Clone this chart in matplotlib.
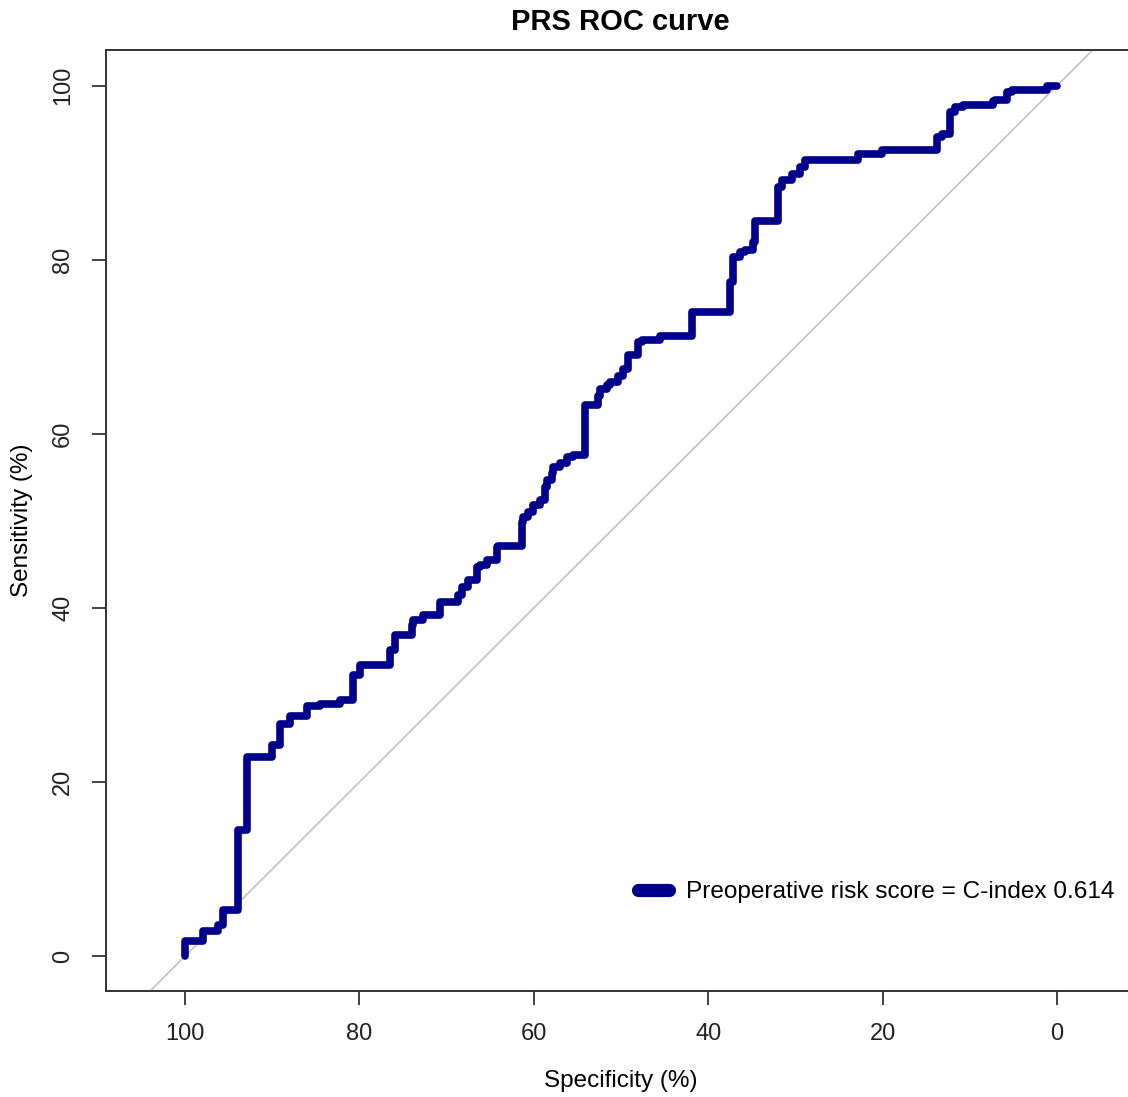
import matplotlib
matplotlib.use("Agg")
import matplotlib.pyplot as plt

plt.rcParams['font.family'] = ['Liberation Sans', 'DejaVu Sans']

# ROC curve points (specificity %, sensitivity %)
specificity = [100.0, 100.0, 97.9, 97.9, 96.2, 95.6, 95.6, 93.9, 93.9, 92.9,
               92.9, 92.0, 90.0, 89.1, 89.1, 88.0, 86.0, 84.5, 82.2, 80.7,
               80.7, 79.9, 78.8, 76.5, 75.9, 75.7, 74.0, 73.9, 72.7, 72.1,
               70.8, 70.5, 68.7, 68.2, 67.5, 66.5, 66.2, 65.4, 64.2, 64.1,
               61.4, 61.2, 60.7, 60.1, 59.3, 58.7, 58.5, 57.9, 57.8, 57.0,
               56.2, 55.5, 54.1, 54.1, 52.6, 52.4, 51.6, 51.3, 50.3, 49.8,
               49.2, 49.2, 48.1, 48.1, 47.6, 45.5, 45.3, 41.9, 41.9, 41.5,
               37.5, 37.5, 37.2, 37.2, 36.4, 35.8, 34.9, 34.6, 34.3, 32.0,
               32.0, 31.5, 30.4, 29.5, 28.9, 27.8, 22.8, 22.6, 20.1, 20.0,
               13.8, 13.8, 13.2, 12.3, 12.3, 11.7, 10.8, 7.3, 7.1, 5.7,
               5.2, 5.0, 1.1, 1.0, 0.0]
sensitivity = [0.0, 1.7, 1.7, 2.9, 2.9, 3.6, 5.3, 5.3, 13.9, 14.5,
               22.5, 22.9, 22.9, 24.3, 26.3, 26.7, 27.6, 28.7, 29.0, 29.4,
               31.1, 32.3, 33.4, 33.4, 35.2, 36.9, 36.9, 38.0, 38.6, 39.2,
               39.2, 40.7, 40.7, 41.5, 42.4, 43.2, 44.7, 44.9, 45.5, 47.0,
               47.1, 49.9, 50.5, 51.0, 51.8, 52.4, 53.9, 54.7, 55.5, 56.2,
               56.7, 57.4, 57.6, 63.3, 63.3, 64.3, 65.1, 65.6, 66.0, 66.6,
               67.4, 69.1, 69.1, 70.0, 70.6, 70.8, 71.3, 71.3, 73.4, 74.0,
               74.0, 76.9, 77.4, 79.8, 80.3, 80.9, 81.1, 82.1, 84.4, 84.4,
               86.9, 88.4, 89.2, 89.8, 90.7, 91.5, 91.5, 92.1, 92.1, 92.6,
               92.6, 93.6, 94.1, 94.4, 96.4, 97.0, 97.6, 97.8, 98.2, 98.4,
               99.3, 99.5, 99.5, 100.0, 100.0]

ticks = [100, 80, 60, 40, 20, 0]
title = "PRS ROC curve"
legend_label = "Preoperative risk score = C-index 0.614"

W, H = 1128, 1097
fig = plt.figure(figsize=(W / 100, H / 100), dpi=100)
left, right, top, bottom = 106, 1136, 50, 991
ax = fig.add_axes([left / W, 1 - bottom / H, (right - left) / W, (bottom - top) / H])

ax.set_xlim(109.06, -9.06)
ax.set_ylim(-4.0, 104.1)

# diagonal reference line
ax.plot([110, -10], [-10, 110], color='#BEBEBE', lw=1.1, zorder=1)

ax.plot(specificity, sensitivity, color='#00008B', lw=5.5,
        drawstyle='steps-pre',
        solid_joinstyle='round', solid_capstyle='round', zorder=3,
        label=legend_label)

ax.set_xticks(ticks)
ax.set_yticks(ticks)
ax.set_xticklabels([str(t) for t in ticks])
ax.set_yticklabels([str(t) for t in ticks], rotation=90, va='center')
ax.tick_params(axis='both', length=10, width=1.2, labelsize=17, pad=13,
               colors='#222222')
for s in ax.spines.values():
    s.set_linewidth(1.4)
    s.set_color('#333333')

ax.set_xlabel("Specificity (%)", fontsize=17.5, labelpad=18)
ax.set_ylabel("Sensitivity (%)", fontsize=17.5, labelpad=14)
fig.text(620 / W, 1 - 22 / H, title, ha='center', va='center',
         fontsize=21, fontweight='bold')

leg = ax.legend(loc='center left', bbox_to_anchor=(638 / W, 1 - 892 / H),
                bbox_transform=fig.transFigure, frameon=False, fontsize=17.6,
                handlelength=1.28, handletextpad=0.68, borderpad=0,
                borderaxespad=0)
for ln in leg.get_lines():
    ln.set_linewidth(9.5)
    ln.set_solid_capstyle('round')

fig.savefig("out.png", dpi=100)
